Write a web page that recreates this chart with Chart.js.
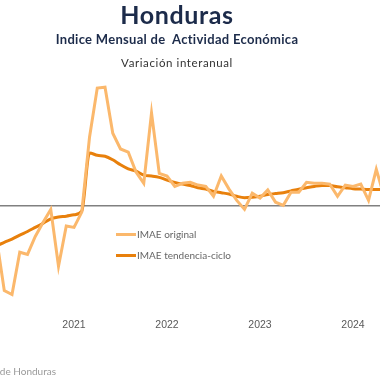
<!DOCTYPE html>
<html>
<head>
<meta charset="utf-8">
<script src="https://cdn.jsdelivr.net/npm/chart.js@4"></script>
<style>
  html, body { margin: 0; padding: 0; background: #fff; }
  body { width: 380px; height: 380px; position: relative; overflow: hidden; font-family: Lato, "DejaVu Sans", sans-serif; }
  #grafico { position: absolute; left: 0; top: 0; }
  .centro { position: absolute; left: 0; width: 354px; text-align: center; white-space: nowrap; line-height: 1; }
  #titulo { top: 2px; font-size: 25px; letter-spacing: 0.6px; font-weight: bold; color: #1c2b4a; }
  #subtitulo { top: 33px; font-size: 13px; letter-spacing: 0.3px; font-weight: bold; color: #1c2b4a; }
  #variacion { top: 57px; font-size: 11.5px; letter-spacing: 0.6px; color: #333; }
  .leyenda { position: absolute; left: 116px; height: 14px; font-size: 10px; color: #666; white-space: nowrap; line-height: 1; }
  .leyenda span.linea { display: inline-block; width: 20px; height: 3px; vertical-align: middle; margin-right: 1px; position: relative; top: -1px; }
  #fuente { position: absolute; right: 324px; top: 366px; font-size: 10px; color: #999; white-space: nowrap; line-height: 1; }
</style>
</head>
<body>
<canvas id="grafico" width="380" height="380"></canvas>
<div id="titulo" class="centro">Honduras</div>
<div id="subtitulo" class="centro">Indice Mensual de&nbsp; Actividad Económica</div>
<div id="variacion" class="centro">Variación interanual</div>
<div id="leg-original" class="leyenda" style="top:229px"><span class="linea" style="background:#fbb86c"></span>IMAE original</div>
<div id="leg-tendencia" class="leyenda" style="top:250px"><span class="linea" style="background:#e8800c"></span>IMAE tendencia-ciclo</div>
<div id="fuente">Fuente: Banco Central de Honduras</div>
<script>
// meses desde marzo 2020 hasta mayo 2024
const meses = [
  "2020-03","2020-04","2020-05","2020-06","2020-07","2020-08","2020-09","2020-10","2020-11","2020-12",
  "2021-01","2021-02","2021-03","2021-04","2021-05","2021-06","2021-07","2021-08","2021-09","2021-10","2021-11","2021-12",
  "2022-01","2022-02","2022-03","2022-04","2022-05","2022-06","2022-07","2022-08","2022-09","2022-10","2022-11","2022-12",
  "2023-01","2023-02","2023-03","2023-04","2023-05","2023-06","2023-07","2023-08","2023-09","2023-10","2023-11","2023-12",
  "2024-01","2024-02","2024-03","2024-04","2024-05"
];

// IMAE original, variacion interanual (%)
const imaeOriginal = [
  -7.1, -18.7, -19.6, -10.2, -10.7, -6.7, -3.6, -0.7, -13.3, -4.4,
  -4.7, -1.3, 15.3, 26.2, 26.4, 16.2, 12.7, 12.0, 7.6, 5.1, 20.7, 7.3,
  6.7, 4.4, 5.1, 5.3, 4.7, 4.4, 2.2, 6.7, 3.8, 1.3, -0.7, 2.9,
  1.8, 3.6, 0.9, 0.2, 3.1, 3.1, 5.3, 5.1, 5.1, 4.9, 2.2, 4.7,
  4.4, 4.9, 1.3, 8.2, 2.2
];

// IMAE tendencia-ciclo (%)
const imaeTendencia = [
  -8.8, -8.0, -7.3, -6.4, -5.6, -4.7, -3.8, -2.8, -2.4, -2.2,
  -1.9, -1.1, 11.8, 11.3, 11.1, 10.3, 9.2, 8.3, 7.8, 6.9, 6.7, 6.4,
  5.8, 5.3, 4.9, 4.6, 4.1, 3.8, 3.3, 3.0, 2.7, 2.2, 1.9, 2.0,
  2.2, 2.6, 2.8, 3.0, 3.4, 3.8, 4.1, 4.4, 4.6, 4.6, 4.3, 4.1,
  3.9, 3.8, 3.7, 3.7, 3.7
];

// etiquetas del eje x (enero de cada año)
const etiquetasAnios = ["2021", "2022", "2023", "2024"];
const posicionesAnios = etiquetasAnios.map(a => meses.indexOf(a + "-01"));

document.addEventListener("DOMContentLoaded", function () {
  const ctx = document.getElementById("grafico").getContext("2d");

  new Chart(ctx, {
    type: "line",
    data: {
      datasets: [
        {
          label: "IMAE original",
          data: imaeOriginal.map((v, i) => ({ x: i, y: v })),
          borderColor: "#fbb86c",
          borderWidth: 3,
          pointRadius: 0,
          tension: 0
        },
        {
          label: "IMAE tendencia-ciclo",
          data: imaeTendencia.map((v, i) => ({ x: i, y: v })),
          borderColor: "#e8800c",
          borderWidth: 3,
          pointRadius: 0,
          cubicInterpolationMode: "monotone"
        }
      ]
    },
    options: {
      responsive: false,
      animation: false,
      layout: { padding: { left: 0, right: 0, top: 71, bottom: 36 } },
      plugins: {
        legend: { display: false },
        tooltip: { enabled: false }
      },
      scales: {
        x: {
          type: "linear",
          min: 0.45,
          max: 49.48,
          afterBuildTicks: axis => { axis.ticks = posicionesAnios.map(v => ({ value: v })); },
          grid: { display: false, drawTicks: false },
          border: { display: false },
          ticks: {
            padding: 13,
            maxRotation: 0,
            autoSkip: false,
            color: "#595959",
            font: { family: "'Liberation Sans', Arial, sans-serif", size: 10.5 },
            callback: value => etiquetasAnios[posicionesAnios.indexOf(value)]
          }
        },
        y: {
          min: -22,
          max: 30,
          ticks: { display: false, stepSize: 10 },
          border: { display: false },
          grid: {
            drawTicks: false,
            color: c => c.tick.value === 0 ? "#808080" : "rgba(0,0,0,0)",
            lineWidth: c => c.tick.value === 0 ? 1.5 : 0
          }
        }
      }
    }
  });
});
</script>
</body>
</html>
